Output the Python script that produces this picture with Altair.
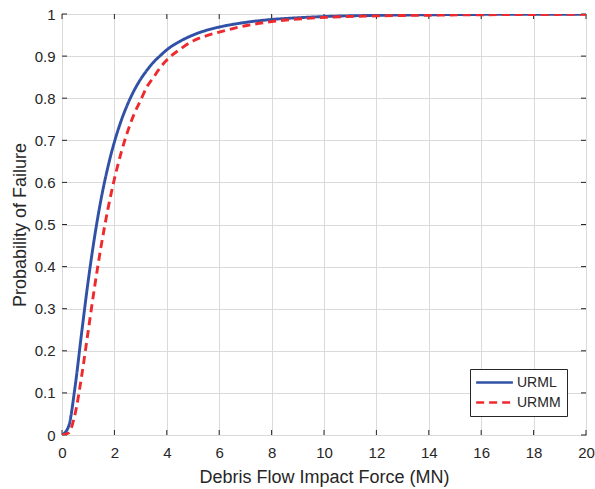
import altair as alt
import pandas as pd

# Values
force = [0, 0.25, 0.5, 0.75, 1, 1.25, 1.5, 1.75, 2, 2.25, 2.5, 2.75, 3, 3.25, 3.5, 3.75, 4, 4.5, 5, 5.5,
         6, 7, 8, 9, 10, 12, 14, 16, 18, 20]
urml = [0, 0.020, 0.115, 0.243, 0.366, 0.473, 0.563, 0.636, 0.696, 0.745, 0.785, 0.818, 0.845, 0.867,
        0.886, 0.901, 0.915, 0.935, 0.950, 0.961, 0.969, 0.980, 0.987, 0.991, 0.994, 0.9968, 0.9982,
        0.999, 0.9994, 0.9996]
urmm = [0, 0.005, 0.05, 0.14, 0.247, 0.354, 0.451, 0.536, 0.608, 0.669, 0.72, 0.762, 0.795, 0.828,
        0.850, 0.873, 0.891, 0.916, 0.936, 0.948, 0.957, 0.972, 0.982, 0.988, 0.992, 0.9955, 0.9972,
        0.9982, 0.9988, 0.9992]
series = ["URML", "URMM"]
x_ticks = [0, 2, 4, 6, 8, 10, 12, 14, 16, 18, 20]
y_ticks = [0, 0.1, 0.2, 0.3, 0.4, 0.5, 0.6, 0.7, 0.8, 0.9, 1]

BLUE = "#3151a6"
RED = "#ee2a2e"
DARK = "#262626"
GRID = "#dadada"
FONT = "Liberation Sans"
W, H = 524, 421
TICK = 5

df = pd.DataFrame({
    "force": force + force,
    "prob": urml + urmm,
    "type": [series[0]] * len(force) + [series[1]] * len(force),
})
dfx = pd.DataFrame({"t": x_ticks})
dfy = pd.DataFrame({"t": y_ticks})

xs = alt.Scale(domain=[0, 20], nice=False, zero=False)
ys = alt.Scale(domain=[0, 1], nice=False, zero=False)

x_axis = alt.Axis(values=x_ticks, format="d", title="Debris Flow Impact Force (MN)",
                  ticks=False, domain=False, labelPadding=10, titlePadding=8, labelFlush=False,
                  grid=True, gridColor=GRID, gridWidth=1)
y_axis = alt.Axis(values=y_ticks, format="~g", title="Probability of Failure",
                  ticks=False, domain=False, labelPadding=7, titlePadding=5, labelFlush=False,
                  grid=True, gridColor=GRID, gridWidth=1)

legend = alt.Legend(title=None, orient="bottom-right", offset=19, strokeColor=DARK,
                    fillColor="white", padding=6, labelFontSize=14, labelColor=DARK,
                    symbolType="M-1.2,0H4.8", symbolSize=150, symbolStrokeWidth=2.6,
                    symbolOffset=0, labelOffset=26, rowPadding=5, cornerRadius=0)

lines = alt.Chart(df).mark_line(strokeWidth=2.9, interpolate="monotone", clip=True).encode(
    x=alt.X("force:Q", scale=xs, axis=x_axis),
    y=alt.Y("prob:Q", scale=ys, axis=y_axis),
    color=alt.Color("type:N", scale=alt.Scale(domain=series, range=[BLUE, RED]), legend=legend),
    strokeDash=alt.StrokeDash("type:N", scale=alt.Scale(domain=series, range=[[1, 0], [8, 5]]), legend=legend),
)

tick_bottom = alt.Chart(dfx).mark_rule(color=DARK, strokeWidth=1).encode(
    x=alt.X("t:Q", scale=xs, axis=x_axis), y=alt.value(H), y2=alt.value(H - TICK))
tick_top = alt.Chart(dfx).mark_rule(color=DARK, strokeWidth=1).encode(
    x=alt.X("t:Q", scale=xs, axis=x_axis), y=alt.value(0), y2=alt.value(TICK))
tick_left = alt.Chart(dfy).mark_rule(color=DARK, strokeWidth=1).encode(
    y=alt.Y("t:Q", scale=ys, axis=y_axis), x=alt.value(0), x2=alt.value(TICK))
tick_right = alt.Chart(dfy).mark_rule(color=DARK, strokeWidth=1).encode(
    y=alt.Y("t:Q", scale=ys, axis=y_axis), x=alt.value(W), x2=alt.value(W - TICK))

chart = alt.layer(tick_bottom, tick_top, tick_left, tick_right, lines).properties(
    width=W, height=H,
    padding={"left": 62, "top": 14, "right": 9, "bottom": 54},
    autosize=alt.AutoSizeParams(type="none"),
).configure(font=FONT, background="white").configure_view(
    stroke=DARK, strokeWidth=1
).configure_axis(
    labelFont=FONT, labelFontSize=15, labelColor=DARK,
    titleFont=FONT, titleFontSize=18, titleColor=DARK, titleFontWeight="normal",
).configure_legend(labelFont=FONT)

chart.save("out.html", embed_options={"renderer": "svg", "actions": False})
